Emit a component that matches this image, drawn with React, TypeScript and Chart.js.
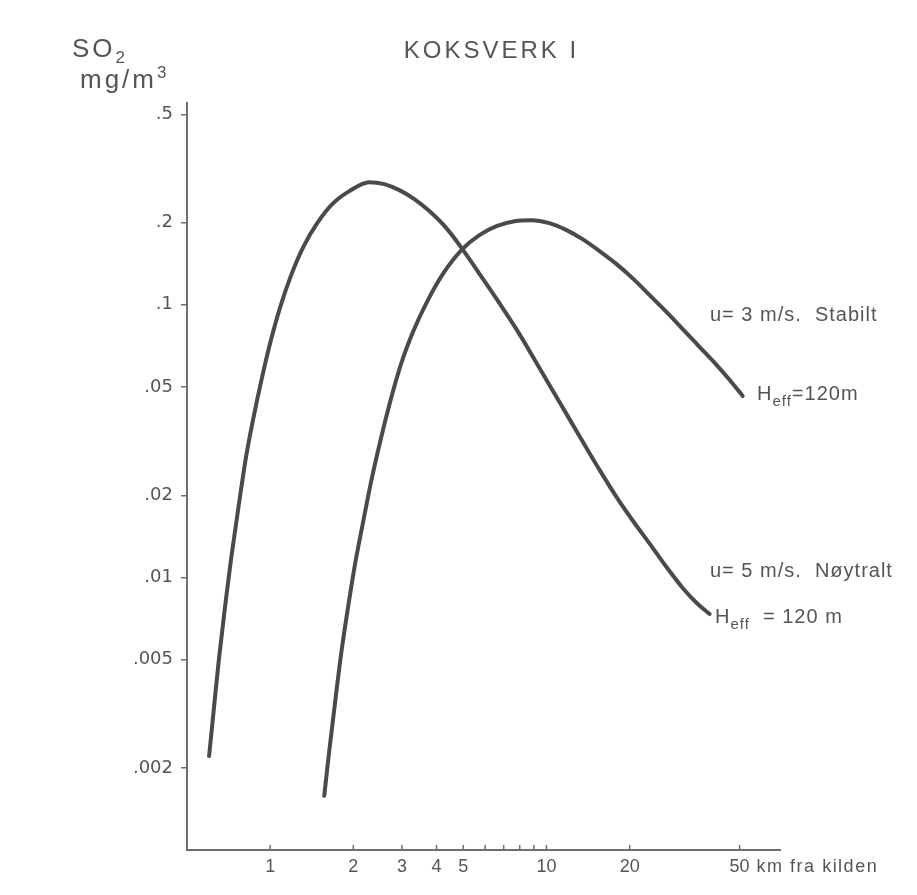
import React, { useEffect, useRef } from 'react';
import { Chart, registerables } from 'chart.js';

Chart.register(...registerables);

// ---- Data (distance in km, SO2 concentration in mg/m3) ----
const NEUTRAL_X = [0.601, 0.627, 0.653, 0.687, 0.722, 0.766, 0.819, 0.868, 0.928, 1.0, 1.087, 1.191, 1.317, 1.48, 1.677, 1.933, 2.284, 2.588, 2.934, 3.325, 3.768, 4.342, 4.962, 5.864, 6.755, 7.983, 9.433, 11.14, 13.5, 15.56, 17.93, 20.66, 23.62, 27.22, 31.11, 34.96, 38.95];
const NEUTRAL_Y = [0.00221, 0.00338, 0.00506, 0.00786, 0.0117, 0.0178, 0.0279, 0.0381, 0.0525, 0.0724, 0.0981, 0.1285, 0.1628, 0.1993, 0.234, 0.2612, 0.2818, 0.2771, 0.2634, 0.2442, 0.2207, 0.1911, 0.1601, 0.1253, 0.1014, 0.0781, 0.0586, 0.044, 0.0316, 0.0248, 0.0197, 0.016, 0.0133, 0.0109, 0.00915, 0.00806, 0.00734];

const STABLE_X = [1.569, 1.636, 1.72, 1.808, 1.917, 2.032, 2.173, 2.322, 2.503, 2.721, 2.983, 3.298, 3.706, 4.236, 4.962, 5.718, 6.59, 7.658, 8.826, 10.25, 11.82, 13.5, 15.56, 17.93, 20.66, 23.62, 27.22, 31.11, 35.84, 41.3, 46.03, 51.3];
const STABLE_Y = [0.00158, 0.00231, 0.00352, 0.00528, 0.00786, 0.0113, 0.0161, 0.0226, 0.0316, 0.0443, 0.0611, 0.0801, 0.1032, 0.1307, 0.1601, 0.1801, 0.1943, 0.2027, 0.2044, 0.1993, 0.1879, 0.1741, 0.1574, 0.141, 0.1242, 0.1085, 0.094, 0.0815, 0.07, 0.0601, 0.053, 0.0463];

const X_TICKS = [1, 2, 3, 4, 5, 6, 7, 8, 9, 10, 20, 50];
const X_LABELED = [1, 2, 3, 4, 5, 10, 20, 50];
const Y_TICKS = [0.002, 0.005, 0.01, 0.02, 0.05, 0.1, 0.2, 0.5];
const Y_LABELS = ['.002', '.005', '.01', '.02', '.05', '.1', '.2', '.5'];

const TITLE = 'KOKSVERK I';
const X_UNIT = 'km fra kilden';
const STABLE_LABEL = 'u= 3 m/s.  Stabilt';
const NEUTRAL_LABEL = 'u= 5 m/s.  Nøytralt';

const LINE_COLOR = '#4a4a4a';
const AXIS_COLOR = '#6f6f6f';
const TEXT_COLOR = '#555555';
const FONT = '"Liberation Sans", Arial, sans-serif';

function drawHeff(ctx: CanvasRenderingContext2D, x: number, y: number, rest: string) {
  ctx.textAlign = 'left';
  ctx.font = `20px ${FONT}`;
  ctx.fillText('H', x, y);
  let cx = x + ctx.measureText('H').width;
  ctx.font = `15px ${FONT}`;
  ctx.fillText('eff', cx, y + 6);
  cx += ctx.measureText('eff').width;
  ctx.font = `20px ${FONT}`;
  ctx.fillText(rest, cx, y);
}

const annotations = {
  id: 'annotations',
  afterDraw(chart: any) {
    const { ctx, chartArea, scales } = chart;
    const xs = scales.x;
    ctx.save();
    // inward x tick marks
    ctx.strokeStyle = AXIS_COLOR;
    ctx.lineWidth = 1.5;
    X_TICKS.forEach((v) => {
      const px = xs.getPixelForValue(v);
      ctx.beginPath();
      ctx.moveTo(px, chartArea.bottom);
      ctx.lineTo(px, chartArea.bottom - 5);
      ctx.stroke();
    });

    ctx.fillStyle = TEXT_COLOR;
    ctx.textBaseline = 'alphabetic';
    // title
    ctx.font = `24px ${FONT}`;
    (ctx as any).letterSpacing = '3px';
    ctx.textAlign = 'center';
    ctx.fillText(TITLE, (chartArea.left + chartArea.right) / 2 + 8, 58);

    // y axis title
    ctx.textAlign = 'left';
    ctx.font = `26px ${FONT}`;
    ctx.fillText('SO', 72, 57);
    let w = ctx.measureText('SO').width;
    ctx.font = `17px ${FONT}`;
    ctx.fillText('2', 72 + w, 63);
    ctx.font = `26px ${FONT}`;
    ctx.fillText('mg/m', 80, 88);
    w = ctx.measureText('mg/m').width;
    ctx.font = `17px ${FONT}`;
    ctx.fillText('3', 80 + w, 78);

    // x unit
    ctx.font = `18px ${FONT}`;
    (ctx as any).letterSpacing = '1.5px';
    ctx.textBaseline = 'middle';
    ctx.fillText(X_UNIT, xs.getPixelForValue(50) + 17, chartArea.bottom + 6 + 10.8);

    // series annotations
    ctx.textBaseline = 'alphabetic';
    (ctx as any).letterSpacing = '1px';
    ctx.font = `20px ${FONT}`;
    ctx.fillText(STABLE_LABEL, 710, 321);
    drawHeff(ctx, 757, 400, '=120m');
    ctx.font = `20px ${FONT}`;
    ctx.fillText(NEUTRAL_LABEL, 710, 577);
    drawHeff(ctx, 715, 623, '  = 120 m');
    ctx.restore();
  },
};

export default function App() {
  const ref = useRef<HTMLCanvasElement | null>(null);
  useEffect(() => {
    if (!ref.current) return;
    const chart = new Chart(ref.current, {
      type: 'line',
      data: {
        datasets: [
          {
            label: 'u=5 m/s Nøytralt',
            data: NEUTRAL_X.map((x, i) => ({ x, y: NEUTRAL_Y[i] })),
            borderColor: LINE_COLOR,
          },
          {
            label: 'u=3 m/s Stabilt',
            data: STABLE_X.map((x, i) => ({ x, y: STABLE_Y[i] })),
            borderColor: LINE_COLOR,
          },
        ],
      },
      options: {
        responsive: false,
        maintainAspectRatio: false,
        animation: false,
        devicePixelRatio: 1,
        layout: { padding: { top: 103, right: 137, left: 0, bottom: 0 } },
        elements: {
          point: { radius: 0 },
          line: { borderWidth: 4, cubicInterpolationMode: 'monotone', borderCapStyle: 'round', borderJoinStyle: 'round' },
        },
        plugins: { legend: { display: false }, tooltip: { enabled: false }, title: { display: false } },
        scales: {
          x: {
            type: 'logarithmic',
            min: 0.5,
            max: 70,
            afterFit: (s: any) => { s.height = 45; },
            afterBuildTicks: (s: any) => { s.ticks = X_TICKS.map((v) => ({ value: v })); },
            grid: { display: false, drawTicks: false },
            border: { display: true, color: AXIS_COLOR, width: 2 },
            ticks: {
              autoSkip: false,
              maxRotation: 0,
              padding: 6,
              color: TEXT_COLOR,
              font: { family: FONT, size: 18 },
              callback: (v: any) => (X_LABELED.includes(Number(v)) ? String(v) : ''),
            },
          },
          y: {
            type: 'logarithmic',
            min: 0.001,
            max: 0.55,
            afterFit: (s: any) => { s.width = 187; },
            afterBuildTicks: (s: any) => { s.ticks = Y_TICKS.map((v) => ({ value: v })); },
            grid: { display: true, drawOnChartArea: false, drawTicks: true, tickLength: 6, color: AXIS_COLOR, lineWidth: 1.5 },
            border: { display: true, color: AXIS_COLOR, width: 2 },
            ticks: {
              autoSkip: false,
              padding: 8,
              color: TEXT_COLOR,
              font: { family: '"DejaVu Sans", sans-serif', size: 18 },
              callback: (v: any) => {
                const i = Y_TICKS.indexOf(Number(v));
                return i >= 0 ? Y_LABELS[i] : '';
              },
            },
          },
        },
      },
      plugins: [annotations],
    } as any);
    return () => chart.destroy();
  }, []);
  return (
    <div style={{ position: 'absolute', left: 0, top: 0, width: 917, height: 895, background: '#fff' }}>
      <canvas ref={ref} width={917} height={895} style={{ display: 'block' }} />
    </div>
  );
}
